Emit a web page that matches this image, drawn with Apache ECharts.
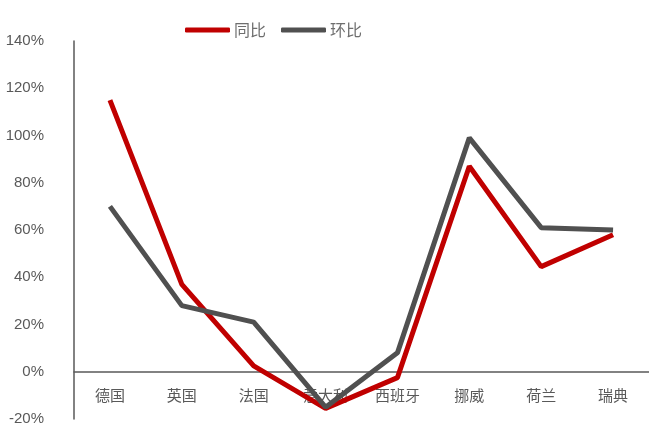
<!DOCTYPE html>
<html><head><meta charset="utf-8">
<script src="https://cdn.jsdelivr.net/npm/echarts@6/dist/echarts.min.js"></script>
<style>html,body{margin:0;padding:0;background:#fff}#c{width:649px;height:425px}</style>
</head><body><div id="c"></div>
<script>
const categories = ['德国','英国','法国','意大利','西班牙','挪威','荷兰','瑞典'];
const yoy = [115, 37, 2.5, -15.5, -2.5, 87, 44.5, 58];
const mom = [70, 28, 21, -15, 8, 99, 61, 60];
const seriesNames = ['同比','环比'];

const chart = echarts.init(document.getElementById('c'));
chart.setOption({
  animation: false,
  backgroundColor: '#fff',
  grid: {left: 74, right: 0, top: 41, bottom: 6, containLabel: false, outerBoundsMode: 'none'},
  legend: {
    top: 17, left: 180,
    itemWidth: 45, itemHeight: 5, itemGap: 15,
    icon: 'roundRect',
    textStyle: {color: '#6e6e6e', fontSize: 16, padding: [0, 0, 0, -1], fontFamily: 'Noto Sans CJK SC'},
    data: seriesNames
  },
  xAxis: {
    type: 'category', data: categories, boundaryGap: true, position: 'bottom', offset: -47.25,
    axisLine: {onZero: false, lineStyle: {color: '#595959', width: 1.5}},
    axisTick: {show: false},
    axisLabel: {color: '#595959', fontSize: 15, margin: 16, fontFamily: 'Noto Sans CJK SC'}
  },
  yAxis: {
    type: 'value', min: -20, max: 140, interval: 20,
    splitLine: {show: false},
    axisLine: {show: true, lineStyle: {color: '#595959', width: 1.5}},
    axisTick: {show: false},
    axisLabel: {color: '#595959', fontSize: 15, margin: 30, formatter: '{value}%', fontFamily: 'Liberation Sans'}
  },
  series: [
    {name: seriesNames[0], type: 'line', data: yoy, symbol: 'none', smooth: false,
     lineStyle: {color: '#C00000', width: 5}, itemStyle: {color: '#C00000'}},
    {name: seriesNames[1], type: 'line', data: mom, symbol: 'none', smooth: false,
     lineStyle: {color: '#505050', width: 5}, itemStyle: {color: '#505050'}}
  ]
});
</script></body></html>
